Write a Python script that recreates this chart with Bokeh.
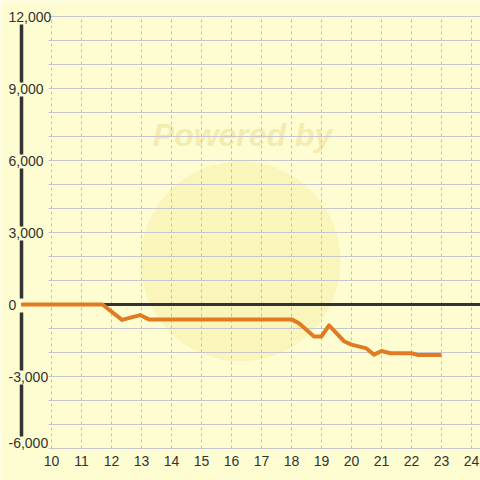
from bokeh.plotting import figure
from bokeh.models import Range1d, ColumnDataSource
from bokeh.core.properties import value
from bokeh.embed import file_html
from bokeh.resources import INLINE

# ---- data ----
hours = [9.0, 11.7, 12.35, 12.95, 13.25, 18.0, 18.25, 18.75, 19.0, 19.25,
         19.75, 20.0, 20.5, 20.75, 21.0, 21.3, 22.0, 22.2, 23.0]
values = [0, 0, -640, -440, -620, -620, -780, -1330, -1330, -870,
          -1530, -1670, -1830, -2090, -1940, -2030, -2030, -2100, -2100]

x_ticks = list(range(10, 25))
x_tick_labels = [str(v) for v in x_ticks]
y_ticks = [12000, 9000, 6000, 3000, 0, -3000, -6000]
y_tick_labels = ["12,000", "9,000", "6,000", "3,000", "0", "-3,000", "-6,000"]
y_grid = list(range(-6000, 12001, 1000))

# ---- style ----
SIZE = 480
S = SIZE / 480
BG = "#fdfdd1"
ORANGE = "#e07b22"
DARK = "#333333"
FONT = value("Liberation Sans")
FS = f"{14 * S:.1f}px"

X0, X1 = 8.3, 24.3
Y0, Y1 = -7333, 12667
PX = (Y1 - Y0) / 480.0          # data units per reference pixel (vertical)
AXIS_X = hours[0]
GRID_X0 = 9.9

p = figure(width=SIZE, height=SIZE, output_backend="svg", toolbar_location=None,
           x_range=Range1d(X0, X1), y_range=Range1d(Y0, Y1),
           x_axis_location=None, y_axis_location=None,
           min_border=0, background_fill_color=BG, border_fill_color=BG,
           outline_line_color=None)
p.xgrid.visible = False
p.ygrid.visible = False

# watermark
p.scatter(x=[16.3], y=[1800], size=200 * S, marker="circle",
          fill_color="#f6ea9a", fill_alpha=0.4, line_color=None)
p.text(x=[16.37], y=[7060], text=["Powered by"], text_align="center",
       text_baseline="middle", text_font=FONT,
       text_font_style="bold italic", text_font_size=f"{32 * S:.1f}px",
       text_color="#f3e6a6", text_alpha=0.75)

# gridlines
p.segment(x0=[GRID_X0] * len(y_grid), x1=[X1] * len(y_grid), y0=y_grid, y1=y_grid,
          line_color="#c6c6cc", line_width=1)
p.segment(x0=x_ticks, x1=x_ticks, y0=[y_grid[0]] * len(x_ticks),
          y1=[y_grid[-1]] * len(x_ticks),
          line_color="#c0c0c0", line_width=1, line_dash="3 3")

# zero line
p.segment(x0=[AXIS_X], x1=[X1], y0=[0], y1=[0], line_color=DARK, line_width=3)

# y axis line, interrupted by the tick labels
ylab_shift = [0, 0, 0, 0, 0, 0, 6]          # reference px, label nudged up
centers = [v + s * PX for v, s in zip(y_ticks, ylab_shift)]
seg_top = [c - 8 * PX for c in centers[:-1]]
seg_bot = [c + 6 * PX for c in centers[1:]]
p.segment(x0=[AXIS_X] * len(seg_top), x1=[AXIS_X] * len(seg_top),
          y0=seg_top, y1=seg_bot, line_color=DARK, line_width=3.5)

# data line
p.line(hours, values, line_color=ORANGE, line_width=4, line_join="round",
       line_cap="butt")

# y tick labels
ysrc = ColumnDataSource(dict(x=[AXIS_X] * len(y_ticks), y=centers,
                             text=y_tick_labels))
p.text(x="x", y="y", text="text", source=ysrc, x_offset=-13 * S,
       text_align="left", text_baseline="middle", text_font=FONT,
       text_font_size=FS, text_color=DARK)

# x tick labels
xsrc = ColumnDataSource(dict(x=x_ticks, y=[y_grid[0]] * len(x_ticks),
                             text=x_tick_labels))
p.text(x="x", y="y", text="text", source=xsrc, y_offset=12 * S,
       text_align="center", text_baseline="middle", text_font=FONT,
       text_font_size=FS, text_color=DARK)

open("out.html", "w").write(file_html(p, INLINE))
